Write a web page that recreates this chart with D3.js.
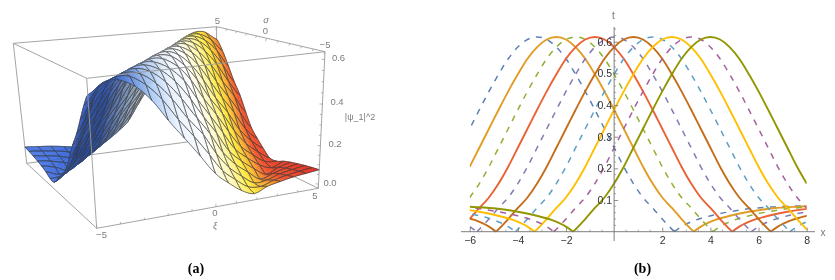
<!DOCTYPE html>
<html><head><meta charset="utf-8">
<script src="https://cdn.jsdelivr.net/npm/d3@7"></script>
<style>html,body{margin:0;padding:0;background:#fff}svg{display:block;filter:blur(.3px)}text{font-family:"Liberation Sans",sans-serif}</style>
</head><body><div id="chart"></div>
<script>
// ---- panel (b) data: [x, |psi|^2]
const curveDashBlue=[[-6.4,.265],[-6,.325],[-5.6,.385],[-5.2,.443],[-4.8,.497],[-4.4,.546],[-4,.583],[-3.6,.607],[-3.2,.615],[-2.8,.607],[-2.4,.583],[-2,.546],[-1.6,.497],[-1.2,.443],[-.8,.385],[-.4,.325],[0,.265],[.4,.205],[.8,.152],[1.2,.108],[1.6,.075],[2,.04],[2.5,0],[2.8,.016],[3.4,.037],[4.1,.052],[4.8,.063],[5.8,.074],[6.8,.079],[8,.082]];
const curveOrange=[[-6,.205],[-5.6,.265],[-5.2,.325],[-4.8,.385],[-4.4,.443],[-4,.497],[-3.6,.546],[-3.2,.583],[-2.8,.607],[-2.4,.615],[-2,.607],[-1.6,.583],[-1.2,.546],[-.8,.497],[-.4,.443],[0,.385],[.4,.325],[.8,.265],[1.2,.205],[1.6,.152],[2,.108],[2.4,.075],[2.8,.04],[3.3,0],[3.6,.016],[4.2,.037],[4.9,.052],[5.6,.063],[6.6,.074],[7.6,.079],[8.8,.082]];
const curveDashGreen=[[-6,.108],[-5.6,.152],[-5.2,.205],[-4.8,.265],[-4.4,.325],[-4,.385],[-3.6,.443],[-3.2,.497],[-2.8,.546],[-2.4,.583],[-2,.607],[-1.6,.615],[-1.2,.607],[-.8,.583],[-.4,.546],[0,.497],[.4,.443],[.8,.385],[1.2,.325],[1.6,.265],[2,.205],[2.4,.152],[2.8,.108],[3.2,.075],[3.6,.04],[4.1,0],[4.4,.016],[5,.037],[5.7,.052],[6.4,.063],[7.4,.074],[8.4,.079]];
const curveRed=[[-6,.04],[-5.6,.075],[-5.2,.108],[-4.8,.152],[-4.4,.205],[-4,.265],[-3.6,.325],[-3.2,.385],[-2.8,.443],[-2.4,.497],[-2,.546],[-1.6,.583],[-1.2,.607],[-.8,.615],[-.4,.607],[0,.583],[.4,.546],[.8,.497],[1.2,.443],[1.6,.385],[2,.325],[2.4,.265],[2.8,.205],[3.2,.152],[3.6,.108],[4,.075],[4.4,.04],[4.9,0],[5.2,.016],[5.8,.037],[6.5,.052],[7.2,.063],[8.2,.074]];
const curveDashViolet=[[-6,.016],[-5.7,0],[-5.2,.04],[-4.8,.075],[-4.4,.108],[-4,.152],[-3.6,.205],[-3.2,.265],[-2.8,.325],[-2.4,.385],[-2,.443],[-1.6,.497],[-1.2,.546],[-.8,.583],[-.4,.607],[0,.615],[.4,.607],[.8,.583],[1.2,.546],[1.6,.497],[2,.443],[2.4,.385],[2.8,.325],[3.2,.265],[3.6,.205],[4,.152],[4.4,.108],[4.8,.075],[5.2,.04],[5.7,0],[6,.016],[6.6,.037],[7.3,.052],[8,.063]];
const curveBrown=[[-6.5,.052],[-5.8,.037],[-5.2,.016],[-4.9,0],[-4.4,.04],[-4,.075],[-3.6,.108],[-3.2,.152],[-2.8,.205],[-2.4,.265],[-2,.325],[-1.6,.385],[-1.2,.443],[-.8,.497],[-.4,.546],[0,.583],[.4,.607],[.8,.615],[1.2,.607],[1.6,.583],[2,.546],[2.4,.497],[2.8,.443],[3.2,.385],[3.6,.325],[4,.265],[4.4,.205],[4.8,.152],[5.2,.108],[5.6,.075],[6,.04],[6.5,0],[6.8,.016],[7.4,.037],[8.1,.052]];
const curveDashSky=[[-6.4,.063],[-5.7,.052],[-5,.037],[-4.4,.016],[-4.1,0],[-3.6,.04],[-3.2,.075],[-2.8,.108],[-2.4,.152],[-2,.205],[-1.6,.265],[-1.2,.325],[-.8,.385],[-.4,.443],[0,.497],[.4,.546],[.8,.583],[1.2,.607],[1.6,.615],[2,.607],[2.4,.583],[2.8,.546],[3.2,.497],[3.6,.443],[4,.385],[4.4,.325],[4.8,.265],[5.2,.205],[5.6,.152],[6,.108],[6.4,.075],[6.8,.04],[7.3,0],[7.6,.016],[8.2,.037]];
const curveYellow=[[-6.6,.074],[-5.6,.063],[-4.9,.052],[-4.2,.037],[-3.6,.016],[-3.3,0],[-2.8,.04],[-2.4,.075],[-2,.108],[-1.6,.152],[-1.2,.205],[-.8,.265],[-.4,.325],[0,.385],[.4,.443],[.8,.497],[1.2,.546],[1.6,.583],[2,.607],[2.4,.615],[2.8,.607],[3.2,.583],[3.6,.546],[4,.497],[4.4,.443],[4.8,.385],[5.2,.325],[5.6,.265],[6,.205],[6.4,.152],[6.8,.108],[7.2,.075],[7.6,.04],[8.1,0]];
const curveDashPurple=[[-6.8,.079],[-5.8,.074],[-4.8,.063],[-4.1,.052],[-3.4,.037],[-2.8,.016],[-2.5,0],[-2,.04],[-1.6,.075],[-1.2,.108],[-.8,.152],[-.4,.205],[0,.265],[.4,.325],[.8,.385],[1.2,.443],[1.6,.497],[2,.546],[2.4,.583],[2.8,.607],[3.2,.615],[3.6,.607],[4,.583],[4.4,.546],[4.8,.497],[5.2,.443],[5.6,.385],[6,.325],[6.4,.265],[6.8,.205],[7.2,.152],[7.6,.108],[8,.075]];
const curveOlive=[[-6,.079],[-5,.074],[-4,.063],[-3.3,.052],[-2.6,.037],[-2,.016],[-1.7,0],[-1.2,.04],[-.8,.075],[-.4,.108],[0,.152],[.4,.205],[.8,.265],[1.2,.325],[1.6,.385],[2,.443],[2.4,.497],[2.8,.546],[3.2,.583],[3.6,.607],[4,.615],[4.4,.607],[4.8,.583],[5.2,.546],[5.6,.497],[6,.443],[6.4,.385],[6.8,.325],[7.2,.265],[7.6,.205],[8,.152]];
const curves=[curveDashBlue,curveOrange,curveDashGreen,curveRed,curveDashViolet,curveBrown,curveDashSky,curveYellow,curveDashPurple,curveOlive];
const curveColors=["#5E81B5","#E19C24","#8FB032","#EB6235","#8778B3","#C56E1A","#5D9EC7","#FFBF00","#A5609D","#929600"];
const xTicks=[-6,-4,-2,2,4,6,8];
const yTicks=[.1,.2,.3,.4,.5,.6];

// ---- panel (a) data: height of the surface, one row per sigma, one column per xi
const xiGrid=d3.range(17).map(i=>-5+.625*i);
const sigmaGrid=d3.range(17).map(j=>-5+.625*j);
const surfaceHeights=[
[.567,.609,.611,.578,.512,.42,.331,.24,.143,.085,.036,.009,.034,.048,.06,.067,.074],
[.512,.578,.611,.609,.567,.497,.403,.315,.22,.13,.074,.026,.016,.037,.051,.061,.069],
[.44,.528,.588,.614,.604,.556,.48,.385,.30,.2,.118,.062,.016,.02,.041,.053,.063],
[.365,.462,.543,.597,.615,.597,.543,.462,.365,.28,.18,.107,.055,.006,.025,.043,.055],
[.30,.385,.48,.556,.604,.614,.588,.528,.44,.347,.26,.16,.096,.045,.002,.029,.046],
[.22,.315,.403,.497,.567,.609,.611,.578,.512,.42,.331,.24,.143,.085,.036,.009,.034],
[.143,.24,.331,.42,.512,.578,.611,.609,.567,.497,.403,.315,.22,.13,.074,.026,.016],
[.096,.16,.26,.347,.44,.528,.588,.614,.604,.556,.48,.385,.30,.2,.118,.062,.016],
[.055,.107,.18,.28,.365,.462,.543,.597,.615,.597,.543,.462,.365,.28,.18,.107,.055],
[.016,.062,.118,.2,.30,.385,.48,.556,.604,.614,.588,.528,.44,.347,.26,.16,.096],
[.016,.026,.074,.13,.22,.315,.403,.497,.567,.609,.611,.578,.512,.42,.331,.24,.143],
[.034,.009,.036,.085,.143,.24,.331,.42,.512,.578,.611,.609,.567,.497,.403,.315,.22],
[.046,.029,.002,.045,.096,.16,.26,.347,.44,.528,.588,.614,.604,.556,.48,.385,.30],
[.055,.043,.025,.006,.055,.107,.18,.28,.365,.462,.543,.597,.615,.597,.543,.462,.365],
[.063,.053,.041,.02,.016,.062,.118,.2,.30,.385,.48,.556,.604,.614,.588,.528,.44],
[.069,.061,.051,.037,.016,.026,.074,.13,.22,.315,.403,.497,.567,.609,.611,.578,.512],
[.074,.067,.06,.048,.034,.009,.036,.085,.143,.24,.331,.42,.512,.578,.611,.609,.567]];
const axisTicks3d=[-5,0,5];
const zTicks3d=[0,.2,.4,.6];

const svg=d3.select("#chart").append("svg").attr("width",835).attr("height",280);

// ================= panel (b)
const x=d3.scaleLinear().domain([-6,8]).range([469.7,806.7]);
const y=d3.scaleLinear().domain([0,.6]).range([231.7,41.7]);
svg.append("clipPath").attr("id","plotClip").append("rect").attr("x",x(-6)).attr("y",20).attr("width",x(8)-x(-6)).attr("height",y(0)-20+1);
const bLines=svg.append("g").attr("clip-path","url(#plotClip)");
const lineGen=d3.line().x(d=>x(d[0])).y(d=>y(d[1])).curve(d3.curveMonotoneX);
curves.forEach((c,k)=>{
  let pieces=[],cur=[];
  c.forEach(p=>{cur.push(p);if(p[1]===0){pieces.push(cur);cur=[p];}});
  pieces.push(cur);
  bLines.append("path").attr("d",pieces.map(lineGen).join(""))
    .attr("fill","none").attr("stroke",curveColors[k])
    .attr("stroke-width",k%2?1.9:1.5).attr("stroke-dasharray",k%2?null:"6 6.5");
});
const axisColor="#707070",labelColor="#333";
const xAxis=svg.append("g").attr("transform",`translate(0,${y(0)})`)
  .call(d3.axisBottom(x).tickValues(xTicks).tickSizeInner(-4).tickSizeOuter(0).tickPadding(5).tickFormat(d3.format("d")));
const yAxis=svg.append("g").attr("transform",`translate(${x(0)},0)`)
  .call(d3.axisLeft(y).tickValues(yTicks).tickSizeInner(-4).tickSizeOuter(0).tickPadding(2).tickFormat(d3.format(".1f")));
[xAxis,yAxis].forEach(a=>{
  a.select(".domain").remove();
  a.selectAll("line").attr("stroke",axisColor).attr("stroke-width",.8);
  a.selectAll("text").attr("fill",labelColor).style("font-size","10.5px").style("font-family",'"Liberation Sans",sans-serif');
});
svg.append("line").attr("x1",461).attr("x2",815).attr("y1",y(0)).attr("y2",y(0)).attr("stroke",axisColor).attr("stroke-width",.9);
svg.append("line").attr("x1",x(0)).attr("x2",x(0)).attr("y1",241).attr("y2",27).attr("stroke",axisColor).attr("stroke-width",.9);
d3.range(-6,8.01,.5).filter(v=>!xTicks.includes(v)&&v!==0).forEach(v=>svg.append("line").attr("x1",x(v)).attr("x2",x(v)).attr("y1",y(0)).attr("y2",y(0)-2).attr("stroke",axisColor).attr("stroke-width",.6));
d3.range(0,.641,.02).filter(v=>Math.round(v*100)%10!==0).forEach(v=>svg.append("line").attr("x1",x(0)).attr("x2",x(0)+2).attr("y1",y(v)).attr("y2",y(v)).attr("stroke",axisColor).attr("stroke-width",.6));
svg.append("text").attr("x",823).attr("y",236).attr("text-anchor","middle").attr("fill","#777").style("font-size","10px").text("x");
svg.append("text").attr("x",613.3).attr("y",19).attr("text-anchor","middle").attr("fill","#777").style("font-size","10px").text("t");
svg.append("text").attr("x",642.5).attr("y",273).attr("text-anchor","middle").attr("fill","#000").style("font-family",'"Liberation Serif",serif').style("font-weight","bold").style("font-size","14px").text("(b)");

// ================= panel (a)
const xiS=d3.scaleLinear().domain([-5,0,5]).range([0,.538,1]);
const sigmaS=d3.scaleLinear().domain([-5,0,5]).range([0,.54,1]);
const zS=d3.scaleLinear().domain([-.02,0,.2,.4,.6,.63]).range([0,.032,.312,.617,.944,1]);
const boxFront={b:[96.7,228.3],t:[86.7,78.3]},boxRight={b:[318.3,188.3],t:[325,51.7]},boxBack={b:[215,138.3],t:[216.7,26.7]},boxLeft={b:[26.7,163.3],t:[13.3,43.3]};
function project(xi,sigma,z){
  const u=xiS(xi),v=sigmaS(sigma),w=zS(z),f=i=>{
    const bot=(1-v)*((1-u)*boxFront.b[i]+u*boxRight.b[i])+v*((1-u)*boxLeft.b[i]+u*boxBack.b[i]);
    const top=(1-v)*((1-u)*boxFront.t[i]+u*boxRight.t[i])+v*((1-u)*boxLeft.t[i]+u*boxBack.t[i]);
    return bot+(top-bot)*w;};
  return [f(0),f(1)];
}
const boxColor="#9a9a9a";
function seg(g,a,b,w){const p=project(...a),q=project(...b);g.append("line").attr("x1",p[0]).attr("y1",p[1]).attr("x2",q[0]).attr("y2",q[1]).attr("stroke",boxColor).attr("stroke-width",w||.9);}
const zB=-.02,zT=.63;
const backBox=svg.append("g");
seg(backBox,[-5,5,zB],[5,5,zB]);seg(backBox,[5,5,zB],[5,-5,zB]);seg(backBox,[5,5,zB],[5,5,zT]);
seg(backBox,[-5,5,zB],[-5,5,zT]);seg(backBox,[-5,5,zT],[5,5,zT]);seg(backBox,[5,5,zT],[5,-5,zT]);
seg(backBox,[-5,5,zB],[-5,-5,zB]);seg(backBox,[-5,5,zT],[-5,-5,zT]);

const tintBase=d3.scaleLinear().domain([-6,-3,-1.5,-.5,.8,2,2.9,3.6,4.3,6])
  .range(["#4a78e6","#2f5fd0","#a9c9f5","#e8f1fd","#ffffff","#fff7a8","#ffe83c","#f9a92c","#f0522a","#e0281f"]).clamp(true);
const cr=(p0,p1,p2,p3,t)=>.5*(2*p1+(p2-p0)*t+(2*p0-5*p1+4*p2-p3)*t*t+(3*p1-p0-3*p2+p3)*t*t*t);
const cl=v=>Math.max(0,Math.min(16,v));
function heightAt(fi,fj){
  const i=Math.min(15,Math.floor(fi)),j=Math.min(15,Math.floor(fj)),a=fi-i,b=fj-j,H=surfaceHeights;
  const row=r=>cr(H[r][cl(i-1)],H[r][i],H[r][i+1],H[r][cl(i+2)],a);
  return Math.max(0,cr(row(cl(j-1)),row(j),row(j+1),row(cl(j+2)),b));
}
const gridXi=d3.scaleLinear().domain([0,16]).range([xiGrid[0],xiGrid[16]]);
const gridSigma=d3.scaleLinear().domain([0,16]).range([sigmaGrid[0],sigmaGrid[16]]);
const pt=(fi,fj)=>project(gridXi(fi),gridSigma(fj),heightAt(fi,fj));
const surf=svg.append("g");
const sub=4;
for(let j=15;j>=0;j--)for(let i=15;i>=0;i--){
  for(let b=sub-1;b>=0;b--)for(let a=sub-1;a>=0;a--){
    const fi=i+a/sub,fj=j+b/sub,d=1/sub;
    const poly=[pt(fi,fj),pt(fi+d,fj),pt(fi+d,fj+d),pt(fi,fj+d)];
    const xiM=gridXi(fi+d/2),sgM=gridSigma(fj+d/2);
    const slope=(heightAt(Math.min(16,fi+d),fj+d/2)-heightAt(fi,fj+d/2))/(.625*d);
    const base=d3.rgb(tintBase(xiM-.2*sgM));
    const col=slope>.05?base.darker(Math.min(1.2,(slope-.05)*9)):base;
    const c=col.formatHex();
    surf.append("path").attr("d","M"+poly.join("L")+"Z").attr("fill",c).attr("stroke",c).attr("stroke-width",.4);
  }
  const e1=[],e2=[],e3=[],e4=[];
  for(let a=0;a<=sub;a++){e1.push(pt(i+a/sub,j));e2.push(pt(i+1,j+a/sub));e3.push(pt(i+a/sub,j+1));e4.push(pt(i,j+a/sub));}
  [e1,e2,e3,e4].forEach(e=>surf.append("path").attr("d","M"+e.join("L")).attr("fill","none").attr("stroke","#3c3c3c").attr("stroke-width",.7));
}
const frontBox=svg.append("g");
seg(frontBox,[-5,-5,zB],[5,-5,zB]);seg(frontBox,[-5,-5,zB],[-5,-5,zT]);seg(frontBox,[5,-5,zB],[5,-5,zT]);seg(frontBox,[-5,-5,zT],[5,-5,zT]);
d3.range(-5,5.01,1).forEach(v=>{
  const p=project(v,-5,zB);frontBox.append("line").attr("x1",p[0]).attr("y1",p[1]).attr("x2",p[0]).attr("y2",p[1]-(v%5===0?3:2)).attr("stroke",boxColor).attr("stroke-width",.7);
  const q=project(5,v,zT);frontBox.append("line").attr("x1",q[0]).attr("y1",q[1]).attr("x2",q[0]-1).attr("y2",q[1]+(v%5===0?3:2)).attr("stroke",boxColor).attr("stroke-width",.7);
});
d3.range(0,.61,.05).forEach(v=>{
  const p=project(5,-5,v);frontBox.append("line").attr("x1",p[0]).attr("y1",p[1]).attr("x2",p[0]-(Math.round(v*100)%20===0?3:2)).attr("y2",p[1]).attr("stroke",boxColor).attr("stroke-width",.7);
});
const lab3d=(t,px,py,opts={})=>svg.append("text").attr("x",px).attr("y",py).attr("text-anchor","middle").attr("dominant-baseline","central").attr("fill","#7d7d7d").style("font-size",(opts.size||9.5)+"px").style("font-style",opts.italic?"italic":null).text(t);
const minusFmt=v=>v<0?"\u2212"+(-v):String(v);
const xiLabelPos=[[101.5,234.5],[215,212.5],[315,195]];
const sigmaLabelPos=[[325,44.5],[265.5,30.5],[217.5,20]];
axisTicks3d.forEach((v,k)=>{lab3d(minusFmt(v),xiLabelPos[k][0],xiLabelPos[k][1]);lab3d(minusFmt(v),sigmaLabelPos[k][0],sigmaLabelPos[k][1]);});
const zLabelPos=[[330,182],[335,143],[337,101],[338.5,57.5]];
zTicks3d.forEach((v,k)=>lab3d(v.toFixed(1),zLabelPos[k][0],zLabelPos[k][1]));
lab3d("|\u03C8_1|^2",360,117,{size:9});
lab3d("\u03C3",266,19,{italic:true,size:9.5});
lab3d("\u03BE",215,225.5,{italic:true,size:9.5});
svg.append("text").attr("x",196).attr("y",273).attr("text-anchor","middle").attr("fill","#000").style("font-family",'"Liberation Serif",serif').style("font-weight","bold").style("font-size","14px").text("(a)");
</script></body></html>
